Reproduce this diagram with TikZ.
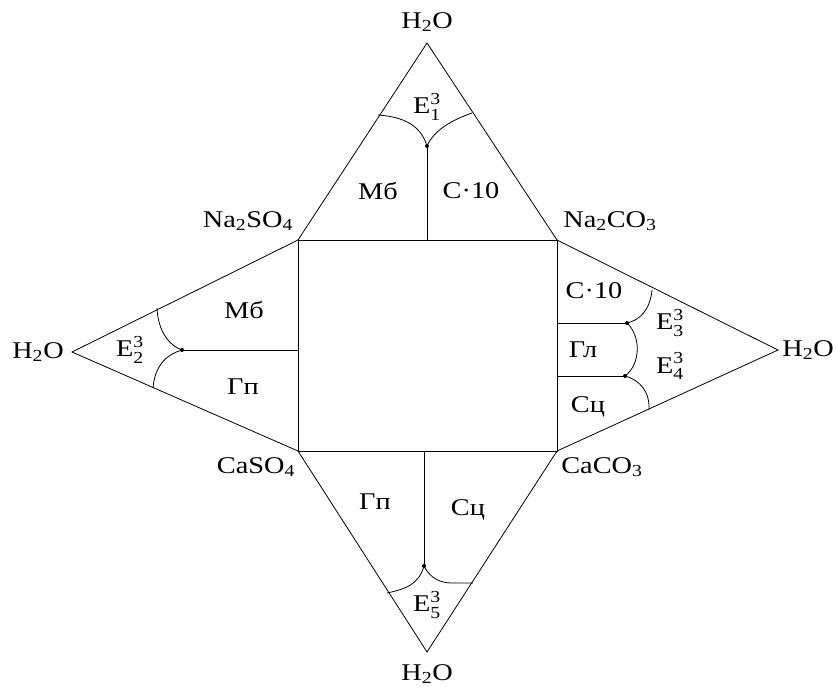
\documentclass[tikz,border=0pt]{standalone}
\usepackage{amsmath}
\usepackage{fontspec}
\setmainfont{Liberation Serif}
\newcommand{\Eut}[1]{$\text{E}^{\text{3}}_{\text{#1}}$}
\newcommand{\wid}[1]{\scalebox{1.18}[1]{#1}}
\begin{document}
\begin{tikzpicture}[x=1pt,y=-1pt,
  edge/.style={line width=0.8pt,black},
  lbl/.style={font=\fontsize{24}{26}\selectfont,inner sep=0pt},
  jdot/.style={circle,fill=black,inner sep=0pt,minimum size=4pt}]
\useasboundingbox (0,0) rectangle (837,689);
% corners
\coordinate (NS) at (298,240);
\coordinate (NC) at (557,240);
\coordinate (CS) at (298,451);
\coordinate (CC) at (557,451);
\coordinate (AT) at (427,43);
\coordinate (AL) at (72,352);
\coordinate (AR) at (778,350);
\coordinate (AB) at (427,652);
% square and triangles
\draw[edge] (NS) rectangle (CC);
\draw[edge] (NS) -- (AT) -- (NC);
\draw[edge] (NS) -- (AL) -- (CS);
\draw[edge] (NC) -- (AR) -- (CC);
\draw[edge] (CS) -- (AB) -- (CC);
% top
\node[jdot] (J1) at (427,146) {};
\coordinate (Tb) at (427,240);
\draw[edge] (J1.center) -- (Tb);
\draw[edge] (378,115) .. controls (405,117) and (421,126) .. (J1.center);
\draw[edge] (472,113) .. controls (452,120) and (434,130) .. (J1.center);
% left
\node[jdot] (J2) at (182,350) {};
\coordinate (Lb) at (298,350);
\draw[edge] (J2.center) -- (Lb);
\draw[edge] (157,308) .. controls (158,332) and (170,346) .. (J2.center);
\draw[edge] (153,388) .. controls (155,364) and (168,354) .. (J2.center);
% right
\node[jdot] (J3) at (627,323) {};
\node[jdot] (J4) at (625,376) {};
\coordinate (R1) at (557,323);
\coordinate (R2) at (557,376);
\draw[edge] (R1) -- (J3.center);
\draw[edge] (R2) -- (J4.center);
\draw[edge] (652,290) .. controls (650,310) and (640,320) .. (J3.center);
\draw[edge] (J3.center) .. controls (641,336) and (641,364) .. (J4.center);
\draw[edge] (J4.center) .. controls (640,380) and (650,392) .. (649,410);
% bottom
\node[jdot] (J5) at (424,566) {};
\coordinate (Bt) at (424,451);
\draw[edge] (Bt) -- (J5.center);
\draw[edge] (J5.center) .. controls (419,584) and (406,589) .. (387,593);
\draw[edge] (J5.center) .. controls (430,578) and (440,583) .. (452,583) -- (473,583);
% labels
\node[lbl] (hT) at (427,22) {\wid{H\textsubscript{2}O}};
\node[lbl] (hL) at (38,352) {\wid{H\textsubscript{2}O}};
\node[lbl] (hR) at (808,350) {\wid{H\textsubscript{2}O}};
\node[lbl] (hB) at (427,674) {\wid{H\textsubscript{2}O}};
\node[lbl] (lNS) at (248,221) {\wid{Na\textsubscript{2}SO\textsubscript{4}}};
\node[lbl] (lNC) at (610,221) {\wid{Na\textsubscript{2}CO\textsubscript{3}}};
\node[lbl] (lCS) at (256,467) {\wid{CaSO\textsubscript{4}}};
\node[lbl] (lCC) at (602,467) {\wid{CaCO\textsubscript{3}}};
\node[lbl] (e1) at (427,107) {\wid{\Eut{1}}};
\node[lbl] (e2) at (130,350) {\wid{\Eut{2}}};
\node[lbl] (e3) at (670,323) {\wid{\Eut{3}}};
\node[lbl] (e4) at (670,366) {\wid{\Eut{4}}};
\node[lbl] (e5) at (427,605) {\wid{\Eut{5}}};
\node[lbl] (m1) at (378,191) {\wid{Мб}};
\node[lbl] (c1) at (471,191) {\wid{С·10}};
\node[lbl] (m2) at (244,310) {\wid{Мб}};
\node[lbl] (g2) at (243,387) {\wid{Гп}};
\node[lbl] (c3) at (594,291) {\wid{С·10}};
\node[lbl] (g3) at (583,350) {\wid{Гл}};
\node[lbl] (s3) at (588,407) {\wid{Сц}};
\node[lbl] (g5) at (375,502) {\wid{Гп}};
\node[lbl] (s5) at (468,510) {\wid{Сц}};
\end{tikzpicture}
\end{document}
